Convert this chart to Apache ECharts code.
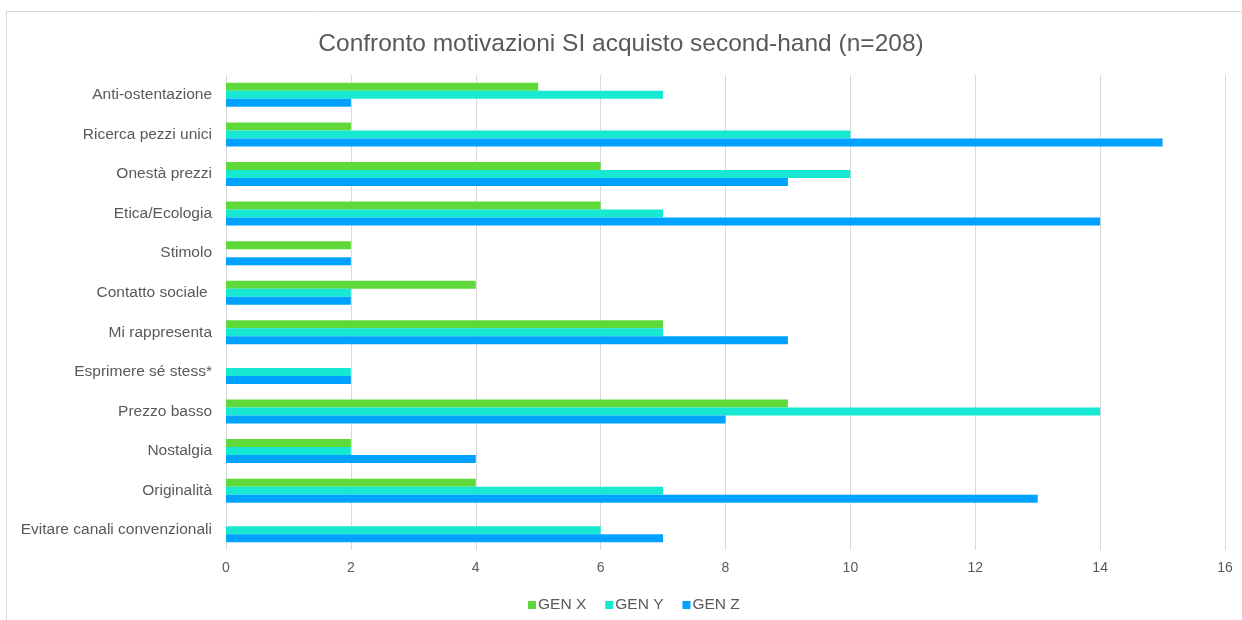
<!DOCTYPE html>
<html><head><meta charset="utf-8">
<script src="https://cdn.jsdelivr.net/npm/echarts@6/dist/echarts.min.js"></script>
<style>html,body{margin:0;padding:0;background:#fff}#c{width:1242px;height:620px}</style>
</head><body><div id="c"></div>
<script>
const categories = ["Anti-ostentazione","Ricerca pezzi unici","Onestà prezzi","Etica/Ecologia","Stimolo","Contatto sociale ","Mi rappresenta","Esprimere sé stess*","Prezzo basso","Nostalgia","Originalità","Evitare canali convenzionali"];
const genX = [5,2,6,6,2,4,7,0,9,2,4,0];
const genY = [7,10,10,7,0,2,7,2,14,2,7,6];
const genZ = [2,15,9,14,2,2,9,2,8,4,13,7];
const seriesNames = ["GEN X","GEN Y","GEN Z"];
const colors = ["#5fd93a","#17e8d2","#00a2ff"];

const chart = echarts.init(document.getElementById('c'), null, {renderer:'canvas'});
const font = 'Helvetica, "Liberation Sans", Arial, sans-serif';
chart.setOption({
  animation:false,
  color: colors,
  textStyle:{fontFamily:font},
  graphic:[{type:'rect',shape:{x:6.5,y:11.5,width:1250,height:620},style:{fill:'none',stroke:'#d9d9d9',lineWidth:1},silent:true,z:-1}],
  title:{text:'Confronto motivazioni SI acquisto second-hand (n=208)',left:'center',top:27,
    textStyle:{fontFamily:font,fontSize:24.5,fontWeight:'normal',color:'#595959'}},
  legend:{data:seriesNames,top:592,left:523,itemWidth:8,itemHeight:8,itemGap:19,icon:'rect',
    textStyle:{fontFamily:font,fontSize:15.5,color:'#595959',padding:[0,0,0,-3]}},
  grid:{left:226,right:17,top:75,bottom:70,containLabel:false},
  xAxis:{type:'value',min:0,max:16,interval:2,
    axisLine:{show:false},axisTick:{show:false},
    splitLine:{lineStyle:{color:'#d9d9d9',width:1}},
    axisLabel:{color:'#595959',fontSize:14,margin:11,fontFamily:font}},
  yAxis:{type:'category',data:categories,inverse:true,
    axisLine:{show:false},axisTick:{show:false},
    axisLabel:{color:'#595959',fontSize:15.5,margin:14,fontFamily:font}},
  series:[
    {name:seriesNames[0],type:'bar',data:genX,barWidth:8,barGap:'0%'},
    {name:seriesNames[1],type:'bar',data:genY,barWidth:8,barGap:'0%'},
    {name:seriesNames[2],type:'bar',data:genZ,barWidth:8,barGap:'0%'}
  ]
});
</script></body></html>
